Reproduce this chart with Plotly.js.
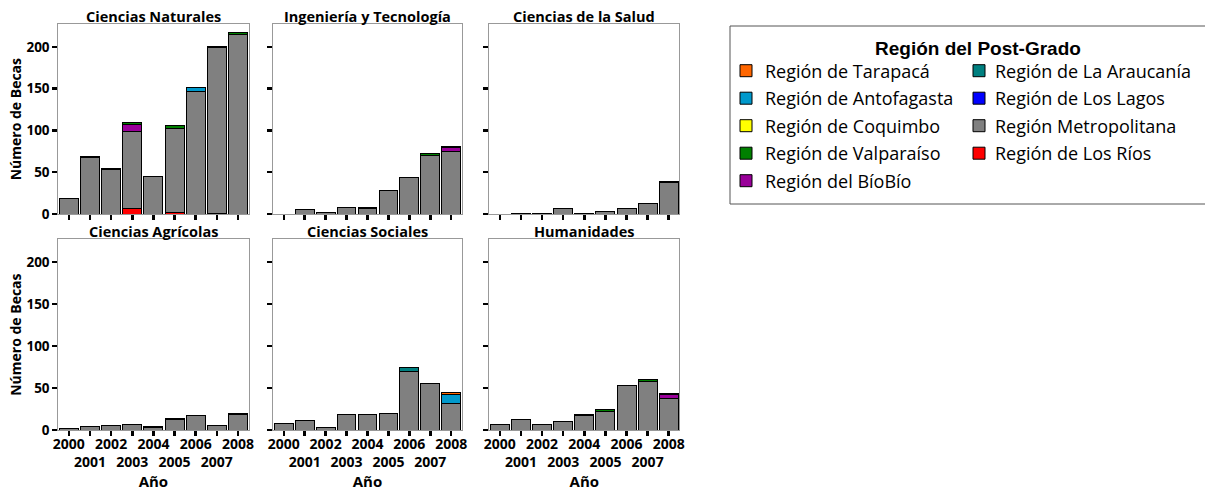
<!DOCTYPE html>
<html>
<head>
<meta charset="utf-8">
<script src="https://cdn.plot.ly/plotly-3.0.1.min.js"></script>
<style>
html,body{margin:0;padding:0;background:#ffffff;}
#chart{width:1205px;height:495px;}
</style>
</head>
<body>
<div id="chart"></div>
<script>
// ---------------- DATA ----------------
const years = [2000, 2001, 2002, 2003, 2004, 2005, 2006, 2007, 2008];
const yearLabels = ['2000', '2001', '2002', '2003', '2004', '2005', '2006', '2007', '2008'];
const panelTitles = ['Ciencias Naturales', 'Ingeniería y Tecnología', 'Ciencias de la Salud',
                     'Ciencias Agrícolas', 'Ciencias Sociales', 'Humanidades'];
const regions = ['Región de Tarapacá', 'Región de Antofagasta', 'Región de Coquimbo',
                 'Región de Valparaíso', 'Región del BíoBío', 'Región de La Araucanía',
                 'Región de Los Lagos', 'Región Metropolitana', 'Región de Los Ríos'];
const regionColors = ['#ff6600', '#0099cc', '#ffff00', '#008000', '#990099',
                      '#008080', '#0000ff', '#808080', '#ff0000'];
const legendTitle = 'Región del Post-Grado';
const yTickValues = [0, 50, 100, 150, 200];

// Ciencias Naturales
const naturalesLosRios      = [0, 0, 0, 6, 0, 2, 0, 1, 0];
const naturalesMetropolitana = [19, 68, 53, 93, 45, 100, 147, 198, 215];
const naturalesBioBio       = [0, 0, 0, 8, 0, 0, 0, 0, 0];
const naturalesValparaiso   = [0, 1, 1, 2, 0, 4, 0, 1, 2];
const naturalesAntofagasta  = [0, 0, 0, 0, 0, 0, 4, 0, 0];
// Ingeniería y Tecnología
const ingenieriaMetropolitana = [0, 5, 2, 8, 7, 28, 44, 70, 75];
const ingenieriaBioBio        = [0, 0, 0, 0, 0, 0, 0, 0, 4];
const ingenieriaValparaiso    = [0, 0, 0, 0, 1, 0, 0, 2, 2];
// Ciencias de la Salud
const saludMetropolitana = [0, 1, 1, 7, 1, 3, 6, 13, 38];
const saludValparaiso    = [0, 0, 0, 0, 0, 0, 0, 0, 1];
// Ciencias Agrícolas
const agricolasMetropolitana = [2, 4, 5, 6, 3, 13, 17, 5, 18];
const agricolasAraucania     = [0, 0, 0, 0, 0, 0, 0, 0, 2];
const agricolasValparaiso    = [0, 0, 0, 1, 1, 1, 0, 0, 0];
// Ciencias Sociales
const socialesMetropolitana = [8, 11, 3, 18, 18, 20, 70, 55, 32];
const socialesAraucania     = [0, 0, 0, 0, 0, 0, 4, 0, 0];
const socialesAntofagasta   = [0, 0, 0, 0, 0, 0, 0, 0, 10];
const socialesTarapaca      = [0, 0, 0, 0, 0, 0, 0, 0, 3];
// Humanidades
const humanidadesMetropolitana = [7, 12, 7, 10, 17, 22, 53, 58, 38];
const humanidadesBioBio        = [0, 0, 0, 0, 0, 0, 0, 0, 4];
const humanidadesValparaiso    = [0, 0, 0, 0, 1, 2, 0, 2, 2];

// table built from the arrays: panel -> region -> values
const panelData = [
  {'Región de Los Ríos': naturalesLosRios, 'Región Metropolitana': naturalesMetropolitana,
   'Región del BíoBío': naturalesBioBio, 'Región de Valparaíso': naturalesValparaiso,
   'Región de Antofagasta': naturalesAntofagasta},
  {'Región Metropolitana': ingenieriaMetropolitana, 'Región del BíoBío': ingenieriaBioBio,
   'Región de Valparaíso': ingenieriaValparaiso},
  {'Región Metropolitana': saludMetropolitana, 'Región de Valparaíso': saludValparaiso},
  {'Región Metropolitana': agricolasMetropolitana, 'Región de La Araucanía': agricolasAraucania,
   'Región de Valparaíso': agricolasValparaiso},
  {'Región Metropolitana': socialesMetropolitana, 'Región de La Araucanía': socialesAraucania,
   'Región de Antofagasta': socialesAntofagasta, 'Región de Tarapacá': socialesTarapaca},
  {'Región Metropolitana': humanidadesMetropolitana, 'Región del BíoBío': humanidadesBioBio,
   'Región de Valparaíso': humanidadesValparaiso}
];

// ---------------- LAYOUT ----------------
const W = 1205, H = 495;
const FONT = 'Open Sans, Liberation Sans, sans-serif';
const colPx = [[58.3, 248.5], [273.3, 461.7], [489.3, 679.3]];
const rowPx = [[24.3, 214], [239.3, 430]];
const px = v => v / W;
const py = v => 1 - v / H;

const traces = [];
const layout = {
  width: W, height: H,
  margin: {l: 0, r: 0, t: 0, b: 0},
  paper_bgcolor: '#ffffff', plot_bgcolor: '#ffffff',
  barmode: 'stack', bargap: 0.1,
  showlegend: false,
  font: {family: FONT, color: '#000000'},
  annotations: [], shapes: []
};

// stacking from bottom: reverse of the legend order
const stackOrder = regions.slice().reverse();

panelTitles.forEach((title, p) => {
  const col = p % 3, row = Math.floor(p / 3);
  const n = p + 1;
  const xa = 'x' + n, ya = 'y' + n;
  stackOrder.forEach(reg => {
    const vals = panelData[p][reg];
    if (!vals) return;
    traces.push({
      type: 'bar', name: reg, x: years,
      y: vals.map(v => v === 0 ? null : v),
      xaxis: xa, yaxis: ya,
      marker: {color: regionColors[regions.indexOf(reg)], line: {color: '#000000', width: 1}},
      hoverinfo: 'x+y+name'
    });
  });
  const bottom = row === 1, left = col === 0;
  layout['xaxis' + (n === 1 ? '' : n)] = {
    domain: [px(colPx[col][0]), px(colPx[col][1])],
    anchor: ya,
    range: [1999.5, 2008.5],
    tickvals: years,
    ticktext: yearLabels.map((t, i) => i % 2 === 0 ? t : '<br>' + t),
    tickangle: 0,
    ticklabelstandoff: -4,
    showticklabels: bottom,
    tickfont: {family: FONT, size: 14, weight: 'bold', color: '#000'},
    ticks: 'outside', ticklen: 5, tickwidth: 2.5, tickcolor: '#000',
    showline: true, linecolor: '#999999', linewidth: 1, mirror: true,
    showgrid: false, zeroline: false, fixedrange: true,
    title: bottom ? {text: 'Año', font: {family: FONT, size: 15, weight: 'bold'}, standoff: 4} : {text: ''}
  };
  layout['yaxis' + (n === 1 ? '' : n)] = {
    domain: [py(rowPx[row][1]), py(rowPx[row][0])],
    anchor: xa,
    range: [0, 227],
    tickvals: yTickValues,
    showticklabels: left,
    tickfont: {family: FONT, size: 13.5, weight: 'bold', color: '#000'},
    ticks: 'outside', ticklen: 5, tickwidth: 2.5, tickcolor: '#000',
    showline: true, linecolor: '#999999', linewidth: 1, mirror: true,
    showgrid: false, zeroline: false, fixedrange: true,
    title: left ? {text: 'Número de Becas', font: {family: FONT, size: 14, weight: 'bold'}, standoff: 1} : {text: ''}
  };
  layout.annotations.push({
    xref: 'paper', yref: 'paper',
    x: px((colPx[col][0] + colPx[col][1]) / 2),
    y: py(rowPx[row][0] - 8),
    text: '<b>' + title + '</b>', showarrow: false,
    xanchor: 'center', yanchor: 'middle',
    font: {family: FONT, size: 14.5, color: '#000'}
  });
});

// ---------------- LEGEND (drawn from regions / regionColors) ----------------
const legBox = {x0: 730, y0: 26, x1: 1215, y1: 204};
layout.shapes.push({
  type: 'rect', xref: 'paper', yref: 'paper',
  x0: px(legBox.x0), x1: px(legBox.x1), y0: py(legBox.y1), y1: py(legBox.y0),
  line: {color: '#555555', width: 1}, fillcolor: 'rgba(0,0,0,0)'
});
layout.annotations.push({
  xref: 'paper', yref: 'paper', x: px(978), y: py(48.5),
  text: '<b>' + legendTitle + '</b>', showarrow: false,
  xanchor: 'center', yanchor: 'middle',
  font: {family: 'Liberation Sans, Arial, sans-serif', size: 19, color: '#000'}
});
const legCols = [{sw: 740, tx: 763}, {sw: 973, tx: 993}];
const legRow0 = 70.7, legRowStep = 27.5, swSize = 12;
regions.forEach((reg, i) => {
  const c = i < 5 ? 0 : 1;
  const r = i < 5 ? i : i - 5;
  const cy = legRow0 + r * legRowStep;
  layout.shapes.push({
    type: 'rect', xref: 'paper', yref: 'paper',
    x0: px(legCols[c].sw), x1: px(legCols[c].sw + swSize),
    y0: py(cy + swSize / 2), y1: py(cy - swSize / 2),
    fillcolor: regionColors[i], line: {color: '#000', width: 1}
  });
  layout.annotations.push({
    xref: 'paper', yref: 'paper', x: px(legCols[c].tx), y: py(cy),
    text: reg, showarrow: false, xanchor: 'left', yanchor: 'middle',
    font: {family: FONT, size: 18, color: '#000'}
  });
});

Plotly.newPlot('chart', traces, layout, {displayModeBar: false, staticPlot: true});
</script>
</body>
</html>
